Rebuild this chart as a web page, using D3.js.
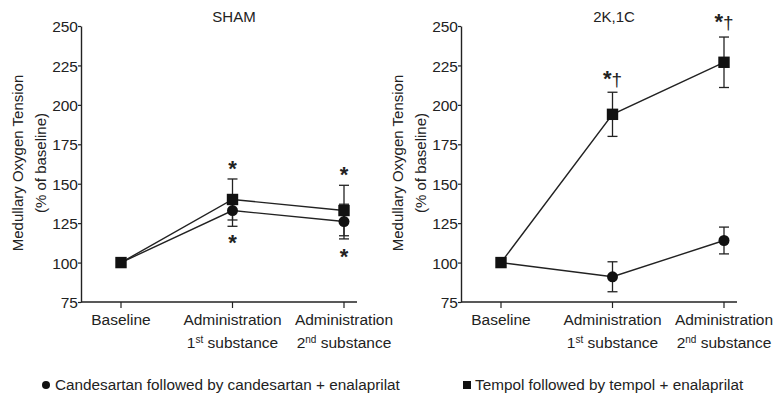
<!DOCTYPE html>
<html lang="en">
<head>
<meta charset="utf-8">
<title>Medullary oxygen tension</title>
<script src="https://cdn.jsdelivr.net/npm/d3@7"></script>
<style>
  body { margin: 0; background: #fff; }
  text { font-family: "Liberation Sans", Arial, sans-serif; fill: #222; }
</style>
</head>
<body>
<script>
// data
var categories = ["Baseline", "Administration 1", "Administration 2"];
var yTicks = [75, 100, 125, 150, 175, 200, 225, 250];

// SHAM panel
var shamCandesartan = [100, 133, 126];
var shamCandesartanErr = [0, 10, 11];
var shamTempol = [100, 140, 133];
var shamTempolErr = [0, 13, 16];

// 2K,1C panel
var clipCandesartan = [100, 91, 114];
var clipCandesartanErr = [0, 9.5, 8.5];
var clipTempol = [100, 194, 227];
var clipTempolErr = [0, 14, 16];

var W = 775, H = 401;
var ink = "#222";
var fs = 15.5;

var svg = d3.select("body").append("svg")
    .attr("width", W)
    .attr("height", H);

/* one panel */
function panel(opt) {
  var g = svg.append("g");

  var y = d3.scaleLinear().domain([75, 250]).range([302, 26]);
  var x = d3.scalePoint().domain(categories)
      .range([opt.x0 + 40, opt.x0 + 263]);

  // y axis
  var yAxis = d3.axisLeft(y).tickValues(yTicks).tickSize(3).tickSizeOuter(0);
  var ya = g.append("g").attr("transform", "translate(" + opt.x0 + ",0)").call(yAxis);
  ya.select(".domain").attr("stroke", ink).attr("stroke-width", 1.4);
  ya.selectAll(".tick line").attr("stroke", ink).attr("stroke-width", 1.2);
  ya.selectAll(".tick text").attr("font-size", fs).attr("x", -3).attr("dy", "0.36em");

  // x axis line and ticks
  g.append("line")
      .attr("x1", opt.x0).attr("x2", opt.x0 + 276)
      .attr("y1", 302).attr("y2", 302)
      .attr("stroke", ink).attr("stroke-width", 1.4);
  g.selectAll(".xt").data(categories).enter().append("line")
      .attr("x1", function(d) { return x(d); })
      .attr("x2", function(d) { return x(d); })
      .attr("y1", 302).attr("y2", 308)
      .attr("stroke", ink).attr("stroke-width", 1.2);

  // category labels
  g.append("text").attr("x", x(categories[0])).attr("y", 325)
      .attr("text-anchor", "middle").attr("font-size", fs).text("Baseline");
  [1, 2].forEach(function(i) {
    var cx = x(categories[i]);
    g.append("text").attr("x", cx).attr("y", 325)
        .attr("text-anchor", "middle").attr("font-size", fs).text("Administration");
    var t = g.append("text").attr("x", cx).attr("y", 348)
        .attr("text-anchor", "middle").attr("font-size", fs);
    t.append("tspan").text(i == 1 ? "1" : "2");
    t.append("tspan").attr("font-size", 10).attr("dy", -5).text(i == 1 ? "st" : "nd");
    t.append("tspan").attr("dy", 5).text(" substance");
  });

  // title
  g.append("text").attr("x", opt.x0 + 153).attr("y", 22)
      .attr("text-anchor", "middle").attr("font-size", 15).text(opt.title);

  // y label
  var yl = g.append("text")
      .attr("transform", "translate(" + (opt.x0 - 58) + ",163) rotate(-90)")
      .attr("text-anchor", "middle").attr("font-size", 15);
  yl.append("tspan").attr("x", 0).attr("dy", 0).text("Medullary Oxygen Tension");
  yl.append("tspan").attr("x", 0).attr("dy", 23).text("(% of baseline)");

  var line = d3.line()
      .x(function(d, i) { return x(categories[i]); })
      .y(function(d) { return y(d); });

  opt.series.forEach(function(s) {
    g.append("path").datum(s.values)
        .attr("d", line).attr("fill", "none")
        .attr("stroke", ink).attr("stroke-width", 1.4);

    // error bars
    s.values.forEach(function(v, i) {
      if (!s.err[i]) return;
      var cx = x(categories[i]);
      [1, -1].forEach(function(dir) {
        var ey = y(v + dir * s.err[i]);
        g.append("line").attr("x1", cx).attr("x2", cx)
            .attr("y1", y(v)).attr("y2", ey)
            .attr("stroke", ink).attr("stroke-width", 1.3);
        g.append("line").attr("x1", cx - 5).attr("x2", cx + 5)
            .attr("y1", ey).attr("y2", ey)
            .attr("stroke", ink).attr("stroke-width", 1.3);
      });
    });
  });

  // markers on top
  opt.series.forEach(function(s) {
    s.values.forEach(function(v, i) {
      var cx = x(categories[i]);
      if (s.shape == "circle") {
        if (i == 0) return; // hidden behind square at baseline
        g.append("circle").attr("cx", cx).attr("cy", y(v)).attr("r", 5.5).attr("fill", "#111");
      } else {
        g.append("rect").attr("x", cx - 5.7).attr("y", y(v) - 5.7)
            .attr("width", 11.4).attr("height", 11.4).attr("fill", "#111");
      }
    });
  });

  // significance marks
  opt.marks.forEach(function(m) {
    var t = g.append("text").attr("x", x(categories[m.i]))
        .attr("y", y(m.v)).attr("text-anchor", "middle")
        .attr("font-size", 22);
    t.append("tspan").attr("font-weight", "bold").text("*");
    if (m.dagger) t.append("tspan").attr("font-size", 19).text("\u2020");
  });
}

panel({
  x0: 81,
  title: "SHAM",
  series: [
    { shape: "circle", values: shamCandesartan, err: shamCandesartanErr },
    { shape: "square", values: shamTempol, err: shamTempolErr }
  ],
  marks: [
    { i: 1, v: 155 },
    { i: 1, v: 108 },
    { i: 2, v: 151 },
    { i: 2, v: 99 }
  ]
});

panel({
  x0: 461,
  title: "2K,1C",
  series: [
    { shape: "circle", values: clipCandesartan, err: clipCandesartanErr },
    { shape: "square", values: clipTempol, err: clipTempolErr }
  ],
  marks: [
    { i: 1, v: 212, dagger: true },
    { i: 2, v: 248, dagger: true }
  ]
});

// legend
svg.append("circle").attr("cx", 46).attr("cy", 385).attr("r", 4).attr("fill", "#111");
svg.append("text").attr("x", 55).attr("y", 390).attr("font-size", 15.3)
    .text("Candesartan followed by candesartan + enalaprilat");
svg.append("rect").attr("x", 463).attr("y", 381).attr("width", 8).attr("height", 8).attr("fill", "#111");
svg.append("text").attr("x", 475).attr("y", 390).attr("font-size", 15.3)
    .text("Tempol followed by tempol + enalaprilat");
</script>
</body>
</html>
